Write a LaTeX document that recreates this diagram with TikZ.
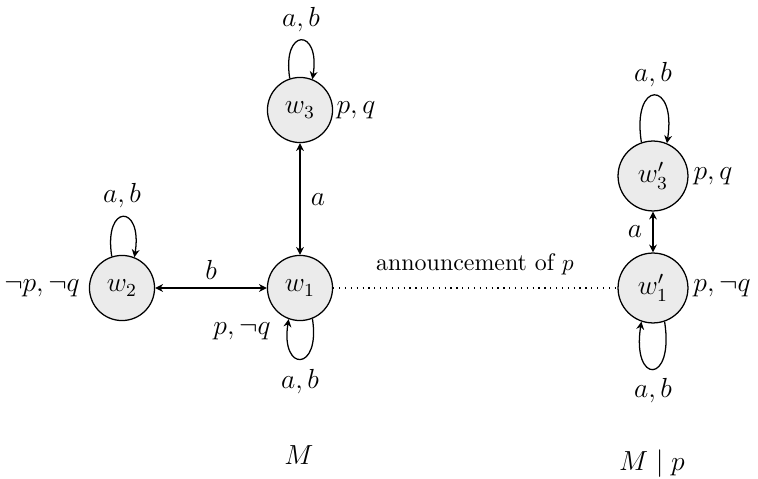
\documentclass[tikz,border=0pt]{standalone}
\usetikzlibrary{arrows.meta}
\begin{document}
\begin{tikzpicture}[x=0.4348pt,y=0.4348pt,
  world/.style={circle,draw,line width=0.55pt,fill=black!8,inner sep=0pt,minimum size=28.3pt,font=\fontsize{12}{14}\selectfont},
  worldp/.style={world,minimum size=30.4pt},
  lbl/.style={inner sep=0pt,font=\fontsize{12}{14}\selectfont},
  txt/.style={inner sep=0pt,font=\fontsize{10.4}{12}\selectfont},
  arr/.style={line width=0.55pt,-{Stealth[length=3.4pt,width=3.4pt,inset=1.1pt]}},
  biarr/.style={line width=0.55pt,{Stealth[length=3.4pt,width=3.4pt,inset=1.1pt]}-{Stealth[length=3.4pt,width=3.4pt,inset=1.1pt]}}]
\useasboundingbox (0,0) rectangle (758,479);
% worlds
\node[world] (w3) at (300,369) {$w_3$};
\node[world] (w1) at (300,191) {$w_1$};
\node[world] (w2) at (122,191) {$w_2$};
\node[worldp] (v3) at (653,303) {$w_3'$};
\node[worldp] (v1) at (653,191) {$w_1'$};
% connectors
\draw[biarr] (w3) -- (w1);
\draw[biarr] (w2) -- (w1);
\draw[biarr] (v3) -- (v1);
\draw[line width=0.55pt,dotted] (w1) -- (v1);
% loops
\draw[arr] (w3.108) .. controls +(99:52) and +(81:52) .. (w3.68);
\draw[arr] (w2.108) .. controls +(99:54) and +(81:54) .. (w2.68);
\draw[arr] (w1.-68) .. controls +(-81:54) and +(-99:54) .. (w1.-110);
\draw[arr] (v3.109) .. controls +(99:64) and +(81:64) .. (v3.67);
\draw[arr] (v1.-71) .. controls +(-81:64) and +(-99:64) .. (v1.-109);
% loop labels
\node[lbl] (l3) at (301,459) {$a,b$};
\node[lbl] (l2) at (122,283) {$a,b$};
\node[lbl] (l1) at (300,97) {$a,b$};
\node[lbl] (k3) at (653,404) {$a,b$};
\node[lbl] (k1) at (653,88) {$a,b$};
% valuations
\node[lbl] (p3) at (356,369) {$p,q$};
\node[lbl] (p2) at (42,191) {$\neg p,\neg q$};
\node[lbl] (p1) at (242,148) {$p,\neg q$};
\node[lbl] (q3) at (713,303) {$p,q$};
\node[lbl] (q1) at (722,191) {$p,\neg q$};
% edge labels
\node[lbl] (ea) at (318,279) {$a$};
\node[lbl] (eb) at (211,209) {$b$};
\node[lbl] (ec) at (635,247) {$a$};
\node[txt] (ann) at (475,215) {announcement of $p$};
% model names
\node[lbl,anchor=base] (m) at (299,14) {$M$};
\node[lbl,anchor=base] (mp) at (652,8) {$M\mid p$};
\end{tikzpicture}
\end{document}
